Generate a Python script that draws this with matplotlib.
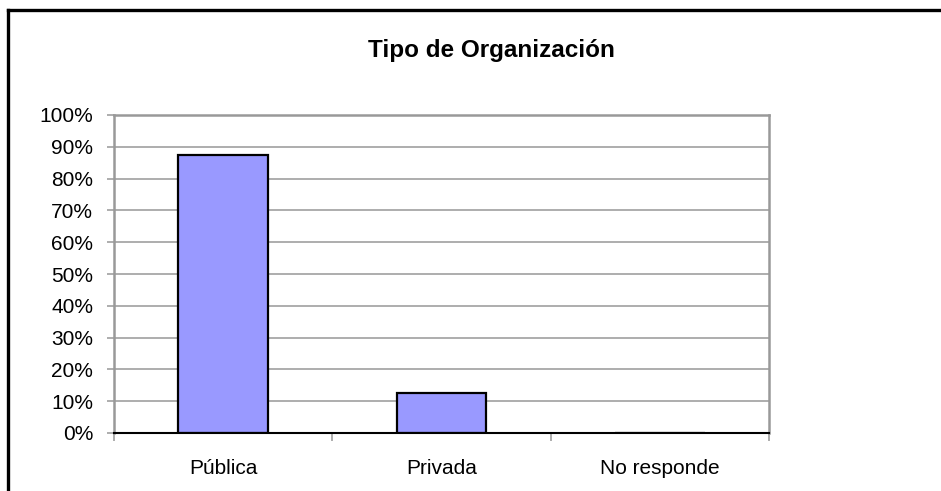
import numpy as np
import matplotlib.pyplot as plt
from matplotlib.lines import Line2D
from matplotlib.ticker import PercentFormatter, FixedLocator, NullFormatter

categorias = ['Pública', 'Privada', 'No responde']
porcentajes = [87.5, 12.5, 0.0]

plt.rcParams['font.family'] = ['Liberation Sans', 'DejaVu Sans']

W, H = 941, 491
fig = plt.figure(figsize=(W / 100, H / 100), dpi=100, facecolor='w')

# plot area in pixels: left 114, right 769, top 115, bottom 433
ax = fig.add_axes([114 / W, 1 - 433 / H, (769 - 114) / W, (433 - 115) / H])

x = np.arange(len(categorias))
ax.bar(x, porcentajes, width=0.41, color='#9999ff', edgecolor='black', linewidth=1.6, zorder=3)

ax.set_xlim(-0.5, len(categorias) - 0.5)
ax.set_ylim(0, 100)
ax.set_yticks(np.arange(0, 101, 10))
ax.yaxis.set_major_formatter(PercentFormatter(decimals=0))
ax.grid(axis='y', color='#a0a0a0', linewidth=1.2, zorder=0)

# category labels centred, ticks on the boundaries
ax.xaxis.set_major_locator(FixedLocator(np.arange(len(categorias) + 1) - 0.5))
ax.xaxis.set_major_formatter(NullFormatter())
ax.xaxis.set_minor_locator(FixedLocator(x))
ax.set_xticklabels(categorias, minor=True)
ax.tick_params(axis='x', which='minor', length=0, pad=19, labelsize=15)
ax.tick_params(axis='x', which='major', length=6, width=1.2, color='#a0a0a0')
ax.tick_params(axis='y', length=5, width=1.2, color='#a0a0a0', pad=10, labelsize=15)

for s in ['top', 'right', 'left']:
    ax.spines[s].set_color('#999999')
    ax.spines[s].set_linewidth(1.8)
ax.spines['bottom'].set_color('black')
ax.spines['bottom'].set_linewidth(1.5)
ax.spines['bottom'].set_zorder(4)

fig.text(491 / W, 1 - 50 / H, 'Tipo de Organización', ha='center', va='center',
         fontsize=17.5, fontweight='bold')

# outer frame (cut off on the right and bottom)
fig.add_artist(Line2D([7.5 / W, 1.01], [1 - 10 / H, 1 - 10 / H], color='black', linewidth=2.4))
fig.add_artist(Line2D([7.5 / W, 7.5 / W], [1 - 10 / H, -0.01], color='black', linewidth=2.4))

fig.savefig('out.png', dpi=100)
